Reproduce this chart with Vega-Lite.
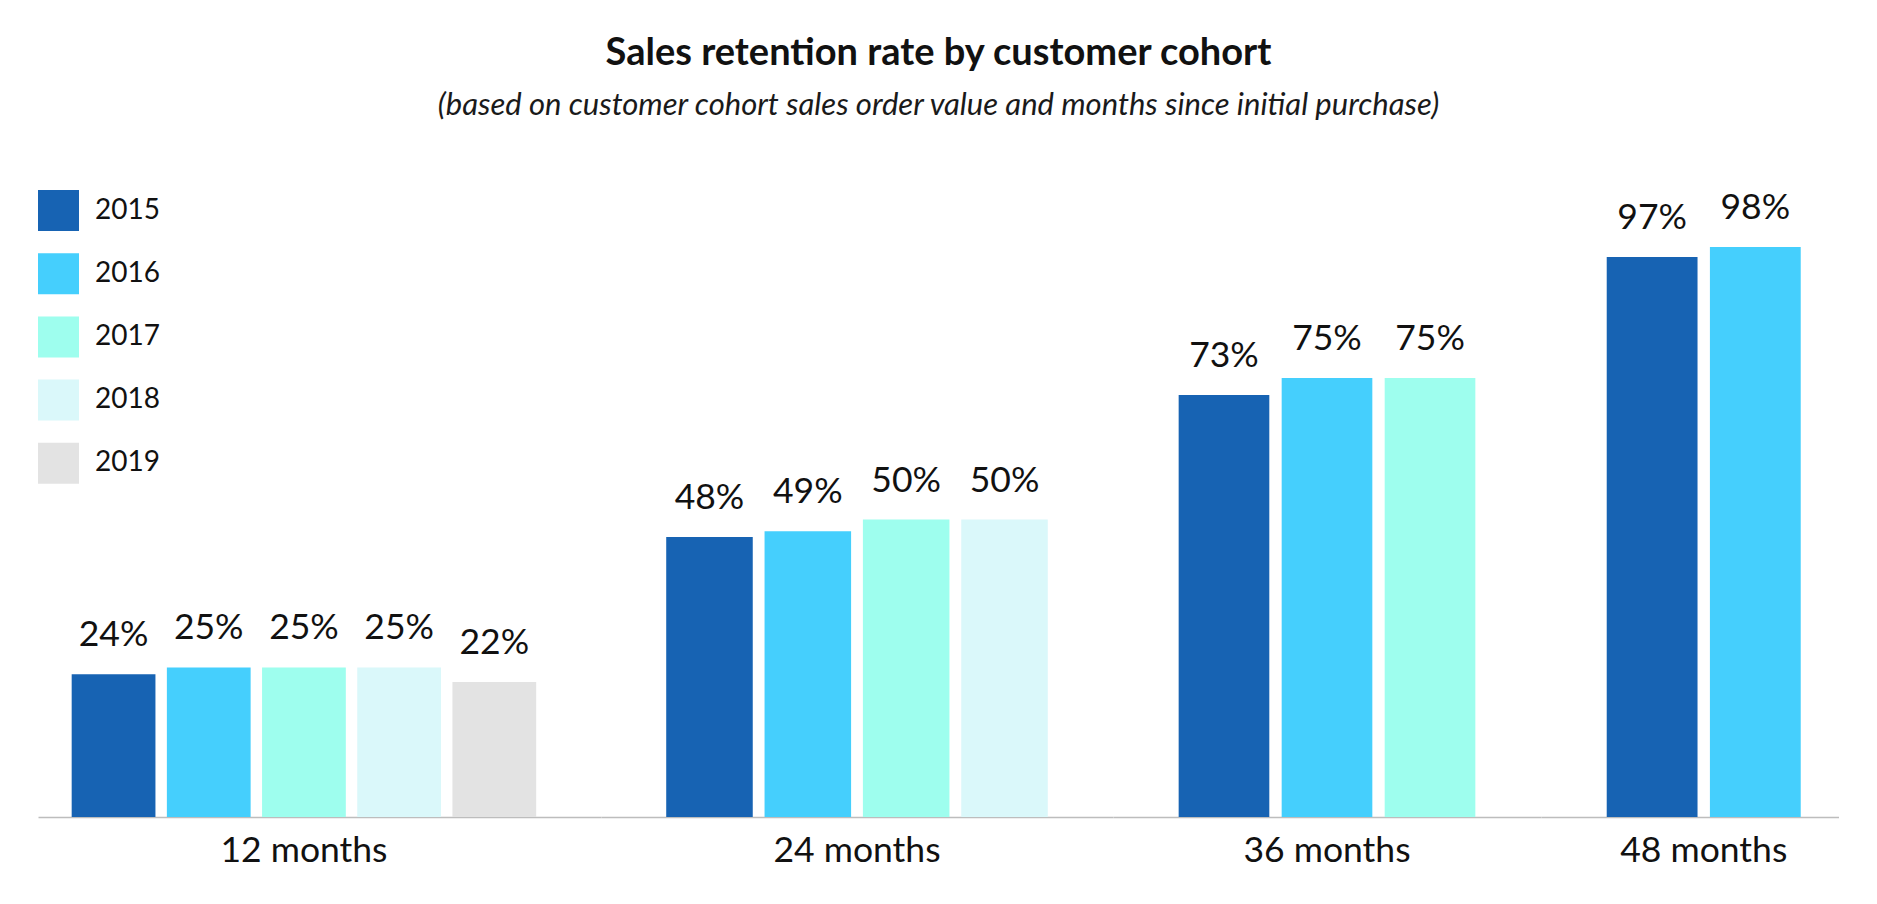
{
  "$schema": "https://vega.github.io/schema/vega-lite/v6.json",
  "background": "white",
  "padding": {"left": 38, "top": 35, "right": 0, "bottom": 0},
  "title": {
    "text": "Sales retention rate by customer cohort",
    "subtitle": "(based on customer cohort sales order value and months since initial purchase)",
    "anchor": "middle",
    "font": "Lato",
    "fontSize": 38,
    "fontWeight": "bold",
    "color": "#111111",
    "subtitleFont": "Lato",
    "subtitleFontSize": 31,
    "subtitleFontStyle": "italic",
    "subtitleColor": "#1a1a1a",
    "subtitlePadding": 18,
    "offset": 69
  },
  "data": {
    "values": [
      {"months": "12 months", "year": "2015", "rate": 0.245, "label": "24%"},
      {"months": "12 months", "year": "2016", "rate": 0.257, "label": "25%"},
      {"months": "12 months", "year": "2017", "rate": 0.257, "label": "25%"},
      {"months": "12 months", "year": "2018", "rate": 0.257, "label": "25%"},
      {"months": "12 months", "year": "2019", "rate": 0.232, "label": "22%"},
      {"months": "24 months", "year": "2015", "rate": 0.481, "label": "48%"},
      {"months": "24 months", "year": "2016", "rate": 0.491, "label": "49%"},
      {"months": "24 months", "year": "2017", "rate": 0.511, "label": "50%"},
      {"months": "24 months", "year": "2018", "rate": 0.511, "label": "50%"},
      {"months": "36 months", "year": "2015", "rate": 0.725, "label": "73%"},
      {"months": "36 months", "year": "2016", "rate": 0.754, "label": "75%"},
      {"months": "36 months", "year": "2017", "rate": 0.754, "label": "75%"},
      {"months": "48 months", "year": "2015", "rate": 0.962, "label": "97%"},
      {"months": "48 months", "year": "2016", "rate": 0.979, "label": "98%"}
    ]
  },
  "spacing": 0,
  "bounds": "flush",
  "hconcat": [
    {
      "width": 563,
      "height": 627,
      "transform": [{"filter": "datum.months === '12 months'"}],
      "encoding": {
        "x": {"field": "months", "type": "nominal", "title": null, "scale": {"paddingInner": 0, "paddingOuter": 0.106, "align": 0.342}},
        "xOffset": {"field": "year", "type": "nominal", "scale": {"paddingInner": 0.12, "paddingOuter": 0}},
        "y": {"field": "rate", "type": "quantitative", "scale": {"domain": [0, 1.077], "nice": false, "zero": true}, "axis": null}
      },
      "layer": [
        {
          "mark": {"type": "bar"},
          "encoding": {
            "color": {
              "field": "year", "type": "nominal",
              "scale": {"domain": ["2015", "2016", "2017", "2018", "2019"], "range": ["#1763B3", "#45CFFD", "#9EFEEE", "#DAF8FA", "#E3E3E3"]},
              "legend": {
                "title": null, "orient": "top-left", "offset": 0, "padding": 0,
                "symbolType": "square", "symbolSize": 1681, "symbolStrokeWidth": 0,
                "rowPadding": 22.2, "labelFont": "Lato", "labelFontSize": 28, "labelColor": "#111111", "labelOffset": 16
              }
            }
          }
        },
        {
          "mark": {"type": "text", "dy": -28, "baseline": "alphabetic", "font": "Lato", "fontSize": 35.5, "color": "#111111"},
          "encoding": {"text": {"field": "label", "type": "nominal"}}
        }
      ]
    },
    {
      "width": 512,
      "height": 627,
      "transform": [{"filter": "datum.months === '24 months'"}],
      "encoding": {
        "x": {"field": "months", "type": "nominal", "title": null, "scale": {"paddingInner": 0, "paddingOuter": 0.1709, "align": 0.5}},
        "xOffset": {"field": "year", "type": "nominal", "scale": {"paddingInner": 0.12, "paddingOuter": 0}},
        "y": {"field": "rate", "type": "quantitative", "scale": {"domain": [0, 1.077], "nice": false, "zero": true}, "axis": null}
      },
      "layer": [
        {
          "mark": {"type": "bar"},
          "encoding": {
            "color": {
              "field": "year", "type": "nominal",
              "scale": {"domain": ["2015", "2016", "2017", "2018", "2019"], "range": ["#1763B3", "#45CFFD", "#9EFEEE", "#DAF8FA", "#E3E3E3"]},
              "legend": null
            }
          }
        },
        {
          "mark": {"type": "text", "dy": -28, "baseline": "alphabetic", "font": "Lato", "fontSize": 35.5, "color": "#111111"},
          "encoding": {"text": {"field": "label", "type": "nominal"}}
        }
      ]
    },
    {
      "width": 428,
      "height": 627,
      "transform": [{"filter": "datum.months === '36 months'"}],
      "encoding": {
        "x": {"field": "months", "type": "nominal", "title": null, "scale": {"paddingInner": 0, "paddingOuter": 0.2213, "align": 0.5}},
        "xOffset": {"field": "year", "type": "nominal", "scale": {"paddingInner": 0.12, "paddingOuter": 0}},
        "y": {"field": "rate", "type": "quantitative", "scale": {"domain": [0, 1.077], "nice": false, "zero": true}, "axis": null}
      },
      "layer": [
        {
          "mark": {"type": "bar"},
          "encoding": {
            "color": {
              "field": "year", "type": "nominal",
              "scale": {"domain": ["2015", "2016", "2017", "2018", "2019"], "range": ["#1763B3", "#45CFFD", "#9EFEEE", "#DAF8FA", "#E3E3E3"]},
              "legend": null
            }
          }
        },
        {
          "mark": {"type": "text", "dy": -28, "baseline": "alphabetic", "font": "Lato", "fontSize": 35.5, "color": "#111111"},
          "encoding": {"text": {"field": "label", "type": "nominal"}}
        }
      ]
    },
    {
      "width": 298,
      "height": 627,
      "transform": [{"filter": "datum.months === '48 months'"}],
      "encoding": {
        "x": {"field": "months", "type": "nominal", "title": null, "scale": {"paddingInner": 0, "paddingOuter": 0.268, "align": 0.632}},
        "xOffset": {"field": "year", "type": "nominal", "scale": {"paddingInner": 0.12, "paddingOuter": 0}},
        "y": {"field": "rate", "type": "quantitative", "scale": {"domain": [0, 1.077], "nice": false, "zero": true}, "axis": null}
      },
      "layer": [
        {
          "mark": {"type": "bar"},
          "encoding": {
            "color": {
              "field": "year", "type": "nominal",
              "scale": {"domain": ["2015", "2016", "2017", "2018", "2019"], "range": ["#1763B3", "#45CFFD", "#9EFEEE", "#DAF8FA", "#E3E3E3"]},
              "legend": null
            }
          }
        },
        {
          "mark": {"type": "text", "dy": -28, "baseline": "alphabetic", "font": "Lato", "fontSize": 35.5, "color": "#111111"},
          "encoding": {"text": {"field": "label", "type": "nominal"}}
        }
      ]
    }
  ],
  "resolve": {
    "scale": {"x": "independent", "xOffset": "independent", "color": "independent", "y": "shared"},
    "legend": {"color": "independent"}
  },
  "config": {
    "view": {"stroke": null},
    "font": "Lato",
    "axisX": {
      "ticks": false,
      "grid": false,
      "domainColor": "#bdbdbd",
      "domainWidth": 1.5,
      "labelFont": "Lato",
      "labelFontSize": 35.5,
      "labelColor": "#111111",
      "labelPadding": 16.5,
      "labelAngle": 0
    }
  }
}
